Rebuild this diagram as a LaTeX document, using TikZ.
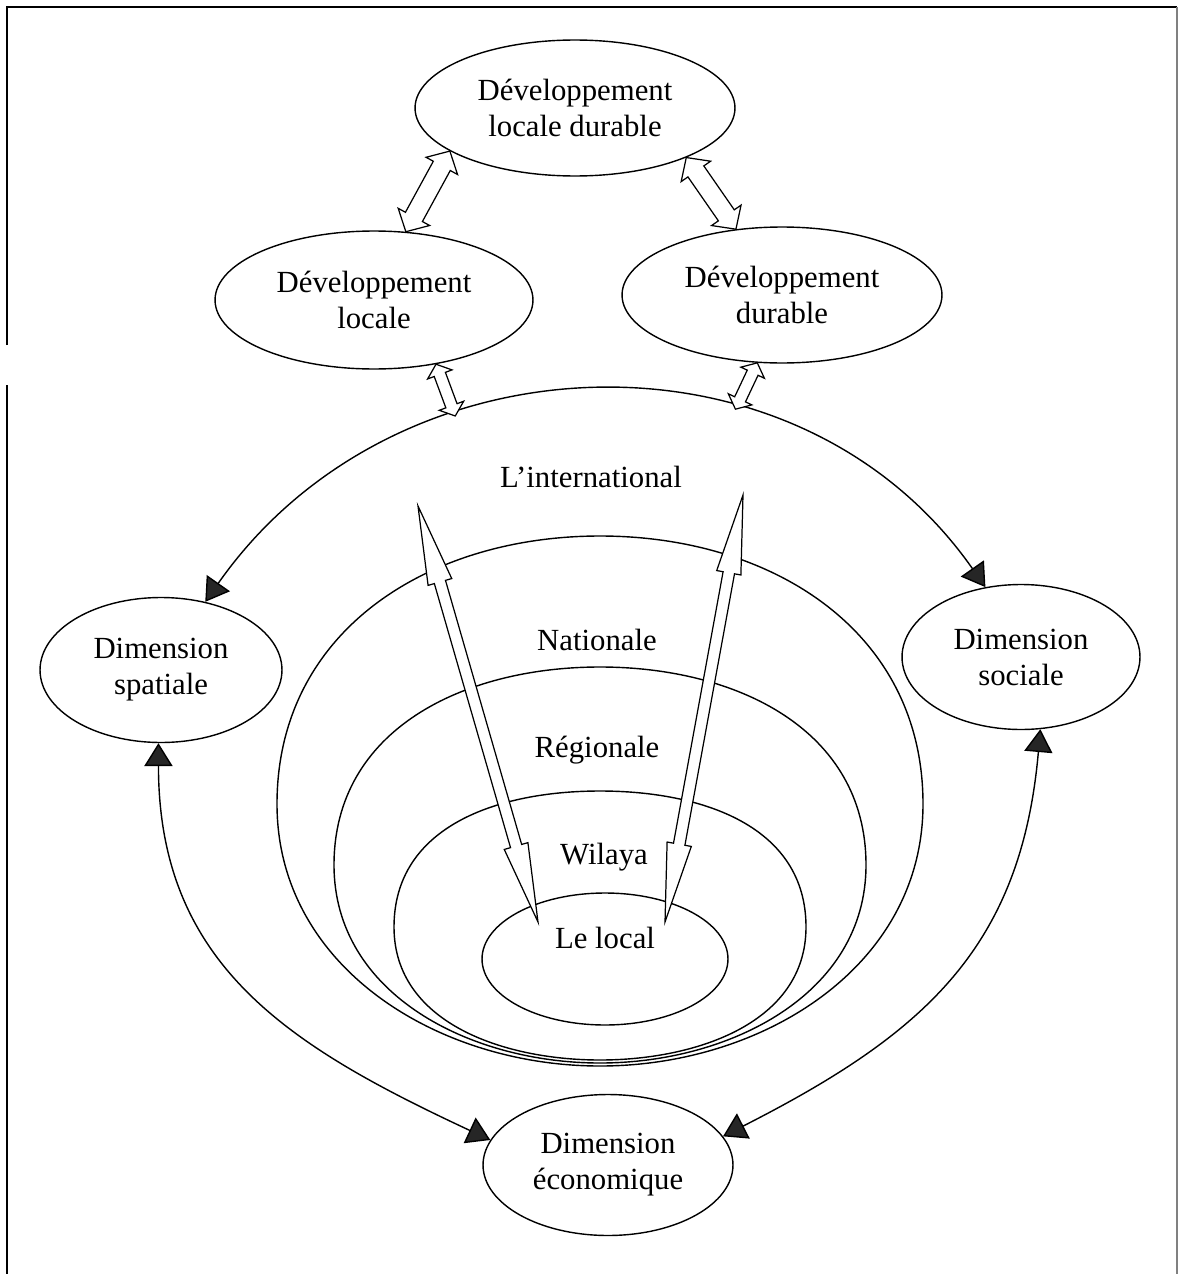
\documentclass[tikz,border=0pt]{standalone}
\usepackage{fontspec}
\setmainfont{Liberation Serif}
\usetikzlibrary{shapes.geometric,arrows.meta,calc}

\newcommand{\diagfont}{\fontsize{17.5}{20.5}\selectfont}

% hollow block arrow, heads at both ends
% #1 from, #2 to, #3 head length, #4 head half width, #5 shaft half width
\newcommand{\hollowarrow}[5]{%
  \coordinate (hA) at ($(#1)!#3!(#2)$);
  \coordinate (hB) at ($(#2)!#3!(#1)$);
  \draw[block] (#1) -- ($(hA)!#4!90:(#2)$) -- ($(hA)!#5!90:(#2)$)
    -- ($(hB)!#5!-90:(#1)$) -- ($(hB)!#4!-90:(#1)$) -- (#2)
    -- ($(hB)!#4!90:(#1)$) -- ($(hB)!#5!90:(#1)$)
    -- ($(hA)!#5!-90:(#2)$) -- ($(hA)!#4!-90:(#2)$) -- cycle;}

\tikzset{
  bubble/.style={ellipse, draw, line width=0.8pt, inner sep=0pt, align=center, font=\diagfont},
  tier/.style={font=\diagfont},
  ring/.style={line width=0.8pt},
  block/.style={draw, fill=white, line width=0.7pt},
  link/.style={line width=0.8pt,
    {Triangle[length=13pt,width=16pt,fill=black!85]}-{Triangle[length=13pt,width=16pt,fill=black!85]}}
}

\begin{document}
\begin{tikzpicture}[x=0.02cm, y=-0.02cm]
\useasboundingbox (0,0) rectangle (1178,1274);

% frame
\draw[line width=1.3pt] (7,345) -- (7,7) -- (1177,7);
\draw[line width=1.3pt] (7,385) -- (7,1274);
\draw[gray, line width=0.6pt] (1177,7) -- (1177,1274);

% ellipses
\node[bubble, minimum width=6.4cm, minimum height=2.72cm] (DLD) at (575,108) {Développement\\locale durable};
\node[bubble, minimum width=6.36cm, minimum height=2.76cm] (DL) at (374,300) {Développement\\locale};
\node[bubble, minimum width=6.4cm, minimum height=2.72cm] (DD) at (782,295) {Développement\\durable};
\node[bubble, minimum width=4.84cm, minimum height=2.9cm] (DS) at (161,670) {Dimension\\spatiale};
\node[bubble, minimum width=4.76cm, minimum height=2.9cm] (DSo) at (1021,657) {Dimension\\sociale};
\node[bubble, minimum width=5cm, minimum height=2.82cm] (DE) at (608,1165) {Dimension\\économique};

% nested levels
\foreach \rx/\wy/\ty/\by in {323/804/536/1066, 266/865/667/1063, 206/927/791/1060}
  \draw[ring] (600,\by) to[out=180,in=-90] (600-\rx,\wy) to[out=90,in=180,looseness=1.05] (600,\ty)
    to[out=0,in=90,looseness=1.05] (600+\rx,\wy) to[out=-90,in=0] (600,\by);
\node[bubble, minimum width=4.92cm, minimum height=2.64cm] (local) at (605,959) {};

\node[tier] (intl) at (591,477) {L’international};
\node[tier] (nat) at (597,640) {Nationale};
\node[tier] (reg) at (597,750) {Régionale};
\node[tier] (wil) at (604,857) {Wilaya};
\node[tier] (loclbl) at (605,938) {Le local};

% curved links between dimensions
\draw[link] (DS.57) to[out=55,in=125,looseness=1.08]
  node[coordinate, pos=0.34] (arcL) {} node[coordinate, pos=0.66] (arcR) {} (DSo.117);
\draw[link] (DS.268) to[out=-90,in=155,looseness=1.1] (DE.168);
\draw[link] (DSo.285) to[out=-95,in=27,looseness=1.1] (DE.14);

% block arrows
\hollowarrow{DLD.199}{DL.65}{9.6pt}{10.2pt}{5.5pt}
\hollowarrow{DLD.336}{DD.125}{9.6pt}{10.2pt}{5.5pt}
\hollowarrow{DL.314}{arcL}{6.2pt}{7.4pt}{3.4pt}
\hollowarrow{DD.250}{arcR}{6.2pt}{7.4pt}{3.4pt}

\coordinate (upL) at (418,506);
\coordinate (upR) at (743,495);
\coordinate (inL) at (538,922);
\coordinate (inR) at (665,922);
\hollowarrow{upL}{inL}{45pt}{7pt}{3.3pt}
\hollowarrow{upR}{inR}{45pt}{7pt}{3.3pt}
\end{tikzpicture}
\end{document}
